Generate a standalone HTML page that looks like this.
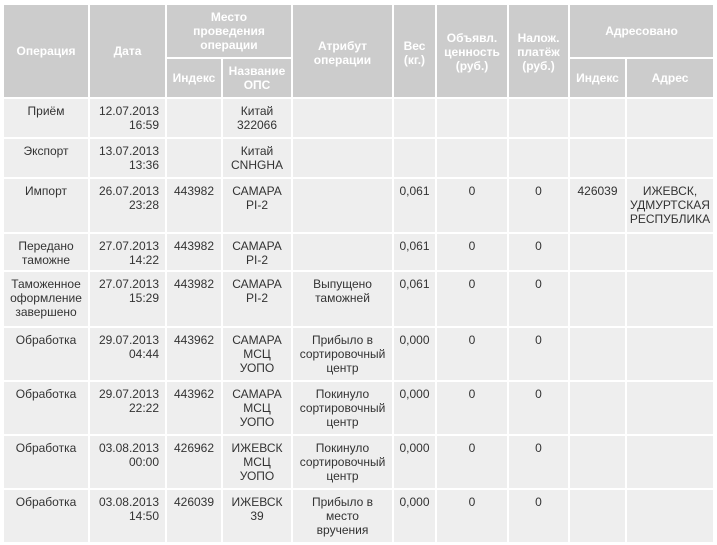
<!DOCTYPE html>
<html><head><meta charset="utf-8"><style>
body{margin:0;background:#fff;width:717px;height:545px;overflow:hidden;}
table{position:absolute;left:2px;top:3px;border-collapse:separate;border-spacing:2px;table-layout:fixed;font-family:"Liberation Sans","DejaVu Sans",sans-serif;}
th{background:#cccccc;color:#fff;font-size:12px;font-weight:bold;line-height:14px;padding:0 1px;text-align:center;vertical-align:middle;}
td{background:#eeeeee;color:#333;font-size:12px;line-height:14px;padding:5px 2px 0 2px;text-align:center;vertical-align:top;}
td.d{text-align:right;padding-right:6px;}
</style></head><body>
<table>
<colgroup><col style="width:84px"><col style="width:75px"><col style="width:54px"><col style="width:68px"><col style="width:99px"><col style="width:41px"><col style="width:70px"><col style="width:59px"><col style="width:55px"><col style="width:86px"></colgroup>
<tr style="height:52px"><th rowspan="2">Операция</th><th rowspan="2">Дата</th><th colspan="2" style="vertical-align:top;padding-top:5px">Место<br>проведения<br>операции</th><th rowspan="2" style="vertical-align:top;padding-top:34px">Атрибут операции</th><th rowspan="2" style="vertical-align:top;padding-top:34px">Вес (кг.)</th><th rowspan="2" style="vertical-align:top;padding-top:26px">Объявл. ценность (руб.)</th><th rowspan="2" style="vertical-align:top;padding-top:26px">Налож. платёж (руб.)</th><th colspan="2">Адресовано</th></tr>
<tr style="height:38px"><th>Индекс</th><th>Название ОПС</th><th>Индекс</th><th>Адрес</th></tr>
<tr style="height:38px"><td>Приём</td><td class="d">12.07.2013<br>16:59</td><td></td><td>Китай<br>322066</td><td></td><td></td><td></td><td></td><td></td><td></td></tr>
<tr style="height:38px"><td>Экспорт</td><td class="d">13.07.2013<br>13:36</td><td></td><td>Китай<br>CNHGHA</td><td></td><td></td><td></td><td></td><td></td><td></td></tr>
<tr style="height:53px"><td>Импорт</td><td class="d">26.07.2013<br>23:28</td><td>443982</td><td>САМАРА<br>PI-2</td><td></td><td>0,061</td><td>0</td><td>0</td><td>426039</td><td>ИЖЕВСК, УДМУРТСКАЯ РЕСПУБЛИКА</td></tr>
<tr style="height:36px"><td>Передано таможне</td><td class="d">27.07.2013<br>14:22</td><td>443982</td><td>САМАРА<br>PI-2</td><td></td><td>0,061</td><td>0</td><td>0</td><td></td><td></td></tr>
<tr style="height:54px"><td>Таможенное оформление завершено</td><td class="d">27.07.2013<br>15:29</td><td>443982</td><td>САМАРА<br>PI-2</td><td>Выпущено<br>таможней</td><td>0,061</td><td>0</td><td>0</td><td></td><td></td></tr>
<tr style="height:52px"><td>Обработка</td><td class="d">29.07.2013<br>04:44</td><td>443962</td><td>САМАРА<br>МСЦ<br>УОПО</td><td>Прибыло в<br>сортировочный<br>центр</td><td>0,000</td><td>0</td><td>0</td><td></td><td></td></tr>
<tr style="height:52px"><td>Обработка</td><td class="d">29.07.2013<br>22:22</td><td>443962</td><td>САМАРА<br>МСЦ<br>УОПО</td><td>Покинуло<br>сортировочный<br>центр</td><td>0,000</td><td>0</td><td>0</td><td></td><td></td></tr>
<tr style="height:52px"><td>Обработка</td><td class="d">03.08.2013<br>00:00</td><td>426962</td><td>ИЖЕВСК<br>МСЦ<br>УОПО</td><td>Покинуло<br>сортировочный<br>центр</td><td>0,000</td><td>0</td><td>0</td><td></td><td></td></tr>
<tr style="height:52px"><td>Обработка</td><td class="d">03.08.2013<br>14:50</td><td>426039</td><td>ИЖЕВСК<br>39</td><td>Прибыло в<br>место<br>вручения</td><td>0,000</td><td>0</td><td>0</td><td></td><td></td></tr>
</table>
</body></html>
